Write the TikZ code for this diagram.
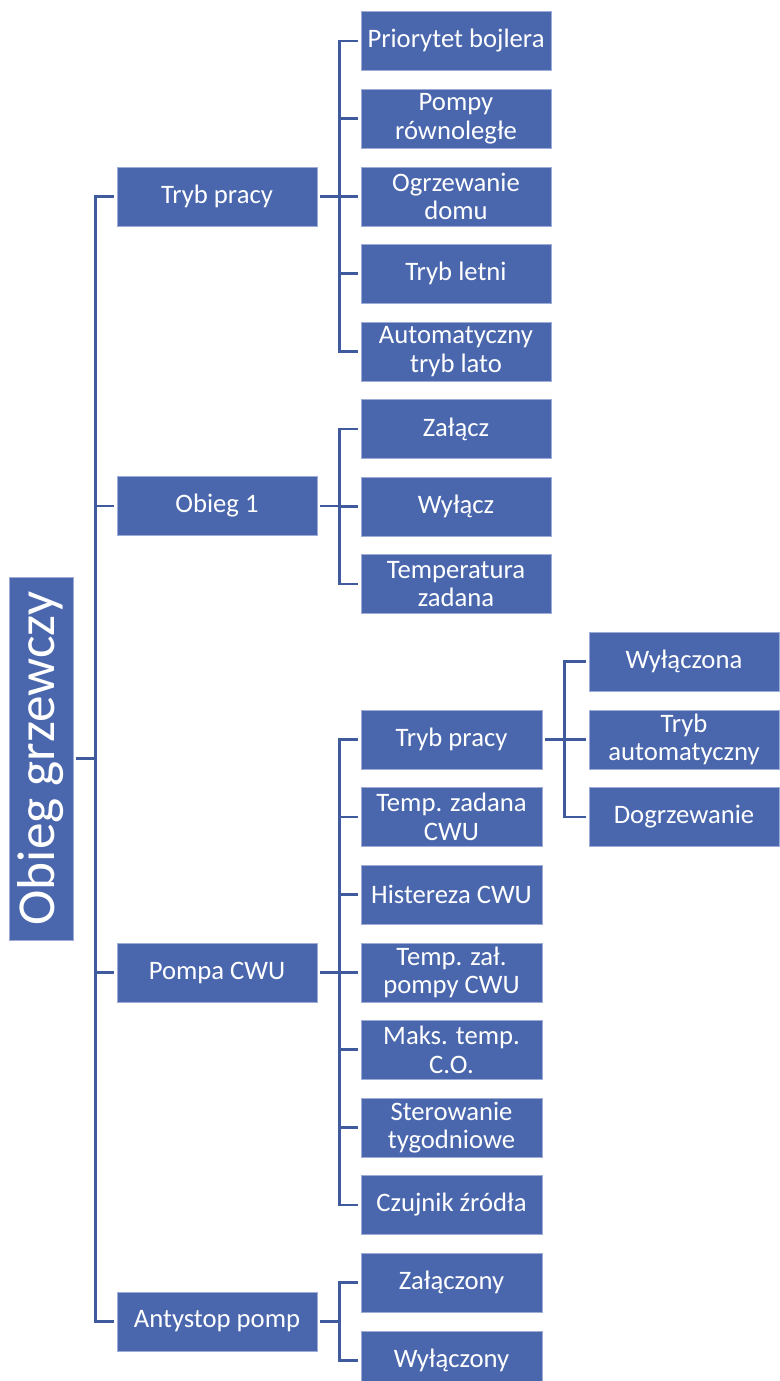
\documentclass[tikz,border=0pt]{standalone}
\usepackage{fontspec}
\setmainfont{Carlito}
\usepackage{tikz}
\definecolor{boxblue}{HTML}{4A67AD}
\definecolor{boxrim}{HTML}{9DADD8}
\definecolor{lineblue}{HTML}{3F5B9E}

\begin{document}
\begin{tikzpicture}[x=0.75pt, y=-0.75pt,
	box/.style={rectangle, fill=boxblue, draw=boxrim, line width=0.5pt, text=white, align=center, inner sep=0pt, minimum height=44.25pt, font=\fontsize{20}{21.5}\selectfont},
	mainbox/.style={box, minimum width=150pt},
	subbox/.style={box, minimum width=142.5pt},
	narrowbox/.style={box, minimum width=135.75pt},
	rootbox/.style={box, rotate=90, minimum width=272.25pt, minimum height=48pt, font=\fontsize{40}{43}\selectfont},
	conn/.style={draw=lineblue, line width=1.9pt, shorten <=2.25pt, shorten >=2.25pt}]
\useasboundingbox (0,0) rectangle (779,1381);

% Root
\node[rootbox] (root) at (41,758.5) {Obieg grzewczy};

% Level 1
\node[mainbox] (trybpracy) at (217,196.5) {Tryb pracy};
\node[mainbox] (obieg) at (217,506) {Obieg 1};
\node[mainbox] (pompa) at (217,972.5) {Pompa CWU};
\node[mainbox] (antystop) at (217,1321.5) {Antystop pomp};

% Level 2: Tryb pracy
\node[subbox] (priorytet) at (456,41) {Priorytet bojlera};
\node[subbox] (pompy) at (456,118.5) {Pompy\\równoległe};
\node[subbox] (ogrzewanie) at (456,196.5) {Ogrzewanie\\domu};
\node[subbox] (letni) at (456,273.5) {Tryb letni};
\node[subbox] (lato) at (456,351.5) {Automatyczny\\tryb lato};

% Level 2: Obieg 1
\node[subbox] (zalacz) at (456,429) {Załącz};
\node[subbox] (wylacz) at (456,506.5) {Wyłącz};
\node[subbox] (tempzad) at (456,584) {Temperatura\\zadana};

% Level 2: Pompa CWU
\node[narrowbox] (cwutryb) at (451.5,739.5) {Tryb pracy};
\node[narrowbox] (cwuzadana) at (451.5,817) {Temp. zadana\\CWU};
\node[narrowbox] (histereza) at (451.5,894.5) {Histereza CWU};
\node[narrowbox] (tempzal) at (451.5,972.5) {Temp. zał.\\pompy CWU};
\node[narrowbox] (maks) at (451.5,1049.5) {Maks. temp.\\C.O.};
\node[narrowbox] (sterowanie) at (451.5,1127.5) {Sterowanie\\tygodniowe};
\node[narrowbox] (czujnik) at (451.5,1205) {Czujnik źródła};

% Level 2: Antystop pomp
\node[narrowbox] (zalaczony) at (451.5,1282.5) {Załączony};
\node[narrowbox] (wylaczony) at (451.5,1360.5) {Wyłączony};

% Level 3: Tryb pracy (CWU)
\node[subbox] (wylaczona) at (684,661.5) {Wyłączona};
\node[subbox] (automat) at (684,739.5) {Tryb\\automatyczny};
\node[subbox] (dogrzew) at (684,817) {Dogrzewanie};

% Draw connectors
\foreach \c in {trybpracy, obieg, pompa, antystop}
	\draw[conn] (root.south) -- ++(22,0) |- (\c.west);
\foreach \c in {priorytet, pompy, ogrzewanie, letni, lato}
	\draw[conn] (trybpracy.east) -- ++(22,0) |- (\c.west);
\foreach \c in {zalacz, wylacz, tempzad}
	\draw[conn] (obieg.east) -- ++(22,0) |- (\c.west);
\foreach \c in {cwutryb, cwuzadana, histereza, tempzal, maks, sterowanie, czujnik}
	\draw[conn] (pompa.east) -- ++(22,0) |- (\c.west);
\foreach \c in {zalaczony, wylaczony}
	\draw[conn] (antystop.east) -- ++(22,0) |- (\c.west);
\foreach \c in {wylaczona, automat, dogrzew}
	\draw[conn] (cwutryb.east) -- ++(22,0) |- (\c.west);
\end{tikzpicture}
\end{document}
